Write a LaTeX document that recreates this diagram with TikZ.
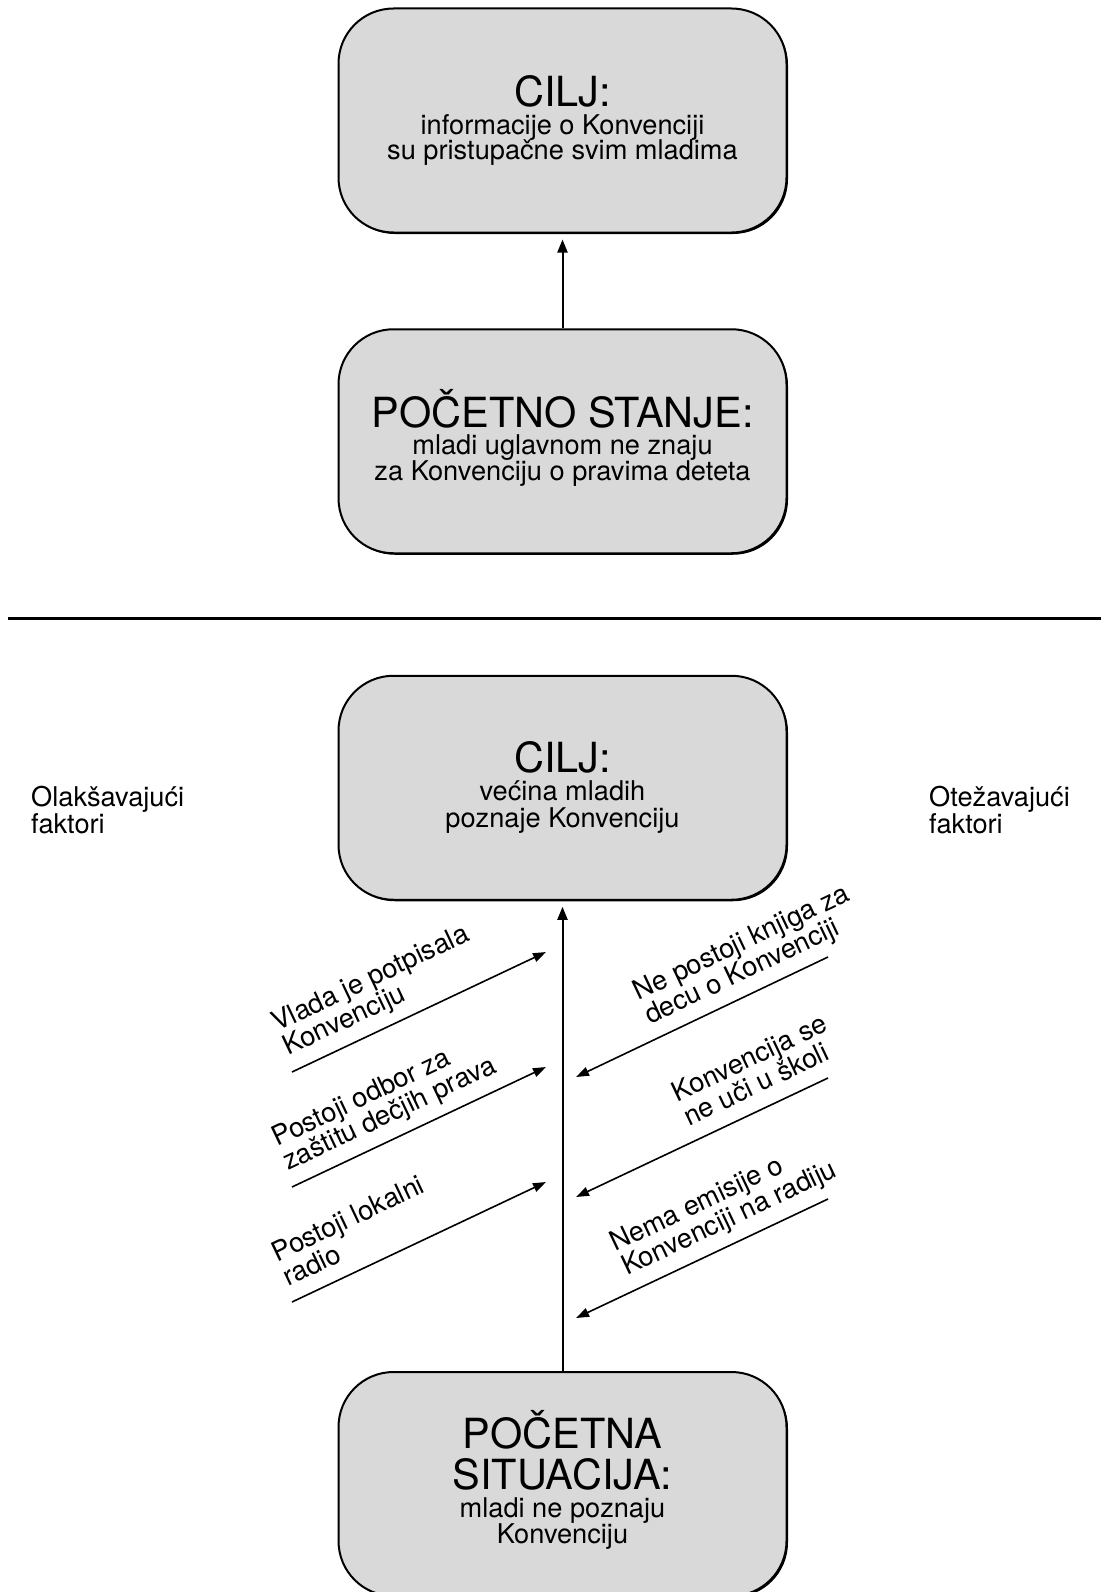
\documentclass[tikz,border=0pt]{standalone}
\usepackage{fontspec}
\setmainfont{TeX Gyre Heros}
\usetikzlibrary{arrows.meta,shadows}
\definecolor{boxgray}{RGB}{217,217,217}
\newcommand\mybigfont{\fontsize{41.5}{42}\selectfont}
\newcommand\mysmallfont{\fontsize{27.2}{26.5}\selectfont}
\newcommand\myboxline[3]{\hbox to 440pt{\hss\vrule height#1pt depth#2pt width0pt\smash{#3}\hss}}
\newcommand\mylabline[2]{\hbox{\vrule height#1pt depth0pt width0pt\smash{#2}}}
\begin{document}
\begin{tikzpicture}[x=1pt,y=-1pt,
  box/.style={draw=black, line width=2pt, fill=boxgray, rounded corners=55pt,
    minimum width=448pt, minimum height=224pt, inner sep=0pt, font=\mysmallfont,
    drop shadow={shadow xshift=1.5pt, shadow yshift=-1.5pt, fill=black, opacity=1}},
  lbl/.style={inner sep=0pt, font=\mysmallfont, anchor=base west, rotate=25.4},
  side/.style={inner sep=0pt, font=\mysmallfont, anchor=base west},
  arr/.style={line width=1.6pt, -{Triangle[length=13pt,width=9pt]}},
  varr/.style={line width=2pt, -{Triangle[length=13pt,width=10pt]}, shorten >=6pt},
]
\useasboundingbox (0,0) rectangle (1101,1592);

% boxes
\node[box] (b1) at (562.5,120.5) {\vbox{\offinterlineskip
  \myboxline{30.3}{0}{\mybigfont CILJ:}
  \myboxline{28}{0}{informacije o Konvenciji}
  \myboxline{25.5}{5.7}{su pristupačne svim mladima}}};
\node[box] (b2) at (562.5,441.25) {\vbox{\offinterlineskip
  \myboxline{30.3}{0}{\mybigfont POČETNO STANJE:}
  \myboxline{27}{0}{mladi uglavnom ne znaju}
  \myboxline{26}{5.7}{za Konvenciju o pravima deteta}}};
\node[box] (b3) at (562.5,787.75) {\vbox{\offinterlineskip
  \myboxline{30.3}{0}{\mybigfont CILJ:}
  \myboxline{28.3}{0}{većina mladih}
  \myboxline{26.5}{5.7}{poznaje Konvenciju}}};
\node[box] (b4) at (562.5,1484) {\vbox{\offinterlineskip
  \myboxline{30.3}{0}{\mybigfont POČETNA}
  \myboxline{41}{0}{\mybigfont SITUACIJA:}
  \myboxline{28}{0}{mladi ne poznaju}
  \myboxline{26}{5.7}{Konvenciju}}};

% vertical connectors
\draw[varr] (b2.north) -- (b1.south);
\draw[varr] (b4.north) -- (b3.south);

% separator
\draw[line width=3pt] (8,618) -- (1101,618);

% side labels
\node[side] (olak) at (31,833) {\vbox{\offinterlineskip
  \mylabline{19.5}{Olakšavajući}\mylabline{26.5}{faktori}}};
\node[side] (otez) at (929,833) {\vbox{\offinterlineskip
  \mylabline{19.5}{Otežavajući}\mylabline{26.5}{faktori}}};

% arrow end points
\coordinate (l1s) at (292,1072); \coordinate (l1e) at (546,952);
\coordinate (l2s) at (292,1187); \coordinate (l2e) at (546,1067);
\coordinate (l3s) at (292,1302); \coordinate (l3e) at (546,1182);
\coordinate (r1s) at (828,957);  \coordinate (r1e) at (576,1077);
\coordinate (r2s) at (828,1078); \coordinate (r2e) at (576,1197);
\coordinate (r3s) at (828,1199); \coordinate (r3e) at (576,1318);

\draw[arr] (l1s) -- (l1e);
\draw[arr] (l2s) -- (l2e);
\draw[arr] (l3s) -- (l3e);
\draw[arr] (r1s) -- (r1e);
\draw[arr] (r2s) -- (r2e);
\draw[arr] (r3s) -- (r3e);

% arrow labels
\node[lbl] (t1) at (288.4,1056) {\vbox{\offinterlineskip
  \mylabline{19.5}{Vlada je potpisala}\mylabline{26.5}{Konvenciju}}};
\node[lbl] (t2) at (288.4,1171) {\vbox{\offinterlineskip
  \mylabline{19.5}{Postoji odbor za}\mylabline{26.5}{zaštitu dečjih prava}}};
\node[lbl] (t3) at (288.4,1286.5) {\vbox{\offinterlineskip
  \mylabline{19.5}{Postoji lokalni}\mylabline{26.5}{radio}}};
\node[lbl] (t4) at (650,1024.7) {\vbox{\offinterlineskip
  \mylabline{19.5}{Ne postoji knjiga za}\mylabline{26.5}{decu o Konvenciji}}};
\node[lbl] (t5) at (689,1126.3) {\vbox{\offinterlineskip
  \mylabline{19.5}{Konvencija se}\mylabline{26.5}{ne uči u školi}}};
\node[lbl] (t6) at (627,1276) {\vbox{\offinterlineskip
  \mylabline{19.5}{Nema emisije o}\mylabline{26.5}{Konvenciji na radiju}}};
\end{tikzpicture}
\end{document}
